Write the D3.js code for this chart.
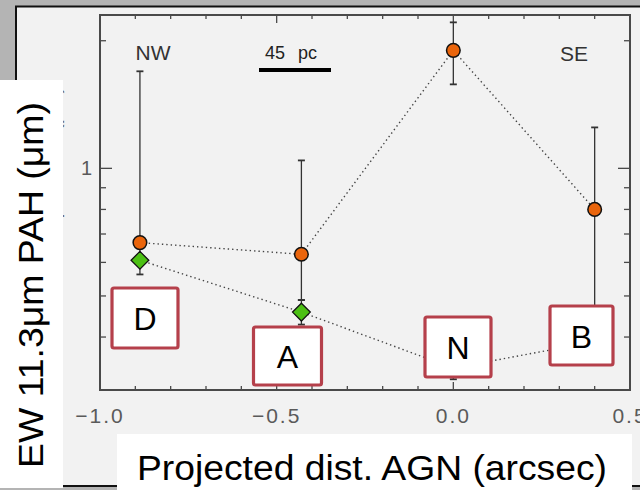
<!DOCTYPE html>
<html>
<head>
<meta charset="utf-8">
<script src="https://cdn.jsdelivr.net/npm/d3@7"></script>
<style>
  html, body { margin: 0; padding: 0; background: #b4b4b4; }
  svg { display: block; }
  text { font-family: "Liberation Sans", Arial, sans-serif; }
</style>
</head>
<body>
<svg id="chart" width="640" height="490"></svg>
<script>
// Region positions along the slit (arcsec from the AGN)
const regions = ["D", "A", "N", "B"];
const offsets = [-0.887, -0.43, 0.0, 0.40];

// EW of the 11.3um PAH band, first series (circles)
const ewCircle     = [0.668, 0.627, 1.898, 0.80];
const ewCircleLow  = [0.660, 0.489, 1.578, 0.35];
const ewCircleHigh = [1.694, 1.044, 2.210, 1.249];

// Second series (diamonds)
const ewDiamond     = [0.607, 0.458, 0.338, 0.390];
const ewDiamondLow  = [0.562, 0.428, 0.318, 0.370];
const ewDiamondHigh = [0.660, 0.489, 0.360, 0.410];

const xTickLabels = ["\u22121.0", "\u22120.5", "0.0", "0.5"];
const xTickValues = [-1.0, -0.5, 0.0, 0.5];
const yMinorTicks = [2, 0.9, 0.8, 0.7, 0.6, 0.5, 0.4, 0.3];
const yMajorTicks = [1];

const svg = d3.select("#chart");

// Panel background
svg.append("rect").attr("x", 0).attr("y", 0).attr("width", 640).attr("height", 490).attr("fill", "#b4b4b4");
svg.append("rect").attr("x", 16).attr("y", 6.5).attr("width", 640).attr("height", 479.5)
  .attr("fill", "#f2f2f2").attr("stroke", "#111").attr("stroke-width", 2);

const plotL = 100, plotR = 630, plotT = 15, plotB = 390;
const x = d3.scaleLinear().domain([-1, 0.5]).range([plotL, plotR]);
const y = d3.scaleLog().domain([0.3, 2.3]).range([plotB, plotT]);

const frameColor = "#4a4a4a";
const g = svg.append("g");

// Ticks on all four sides
const xMinor = d3.range(-10, 6).map(i => i / 10);
xMinor.forEach(v => {
  const major = xTickValues.some(t => Math.abs(t - v) < 1e-9);
  const len = major ? 8 : 4;
  g.append("line").attr("x1", x(v)).attr("x2", x(v)).attr("y1", plotB).attr("y2", plotB - len)
    .attr("stroke", frameColor).attr("stroke-width", 1.3);
  g.append("line").attr("x1", x(v)).attr("x2", x(v)).attr("y1", plotT).attr("y2", plotT + len)
    .attr("stroke", frameColor).attr("stroke-width", 1.3);
});
yMinorTicks.concat(yMajorTicks).forEach(v => {
  const len = yMajorTicks.includes(v) ? 12 : 6;
  g.append("line").attr("x1", plotL).attr("x2", plotL + len).attr("y1", y(v)).attr("y2", y(v))
    .attr("stroke", frameColor).attr("stroke-width", 1.3);
  g.append("line").attr("x1", plotR).attr("x2", plotR - len).attr("y1", y(v)).attr("y2", y(v))
    .attr("stroke", frameColor).attr("stroke-width", 1.3);
});

// Frame
g.append("rect").attr("x", plotL).attr("y", plotT).attr("width", plotR - plotL).attr("height", plotB - plotT)
  .attr("fill", "none").attr("stroke", frameColor).attr("stroke-width", 2);

// Tick labels
xTickValues.forEach((v, i) => {
  g.append("text").attr("x", x(v)).attr("y", 423).attr("text-anchor", "middle")
    .attr("font-size", 21).attr("letter-spacing", 2).attr("fill", "#5a5a5a").text(xTickLabels[i]);
});
yMajorTicks.forEach(v => {
  g.append("text").attr("x", 92).attr("y", y(v) + 7).attr("text-anchor", "end")
    .attr("font-size", 20).attr("fill", "#5a5a5a").text(d3.format("d")(v));
});

// Original small axis titles (mostly hidden under the large ones)
g.append("text").attr("x", 365).attr("y", 455).attr("text-anchor", "middle")
  .attr("font-size", 27).attr("fill", "#8a8a8a").attr("letter-spacing", 1.5)
  .text("Projected dist. AGN (arcsec)");
g.append("text").attr("transform", "translate(59,86) rotate(-90)").attr("text-anchor", "end")
  .attr("font-size", 22).attr("fill", "#6a6a6a").text("EW 11.3\u03bcm PAH (\u03bcm)");

// Connecting dotted lines
const line = d3.line().x(d => x(d[0])).y(d => y(d[1]));
const circlePts = offsets.map((o, i) => [o, ewCircle[i]]);
const diamondPts = offsets.map((o, i) => [o, ewDiamond[i]]);
[circlePts, diamondPts].forEach(pts => {
  g.append("path").attr("d", line(pts)).attr("fill", "none").attr("stroke", "#444")
    .attr("stroke-width", 1.4).attr("stroke-dasharray", "1.4,3");
});

// Error bars
function errorBars(lo, hi) {
  offsets.forEach((o, i) => {
    const cx = x(o);
    g.append("line").attr("x1", cx).attr("x2", cx).attr("y1", y(lo[i])).attr("y2", y(hi[i]))
      .attr("stroke", "#333").attr("stroke-width", 1.3);
    [lo[i], hi[i]].forEach(v => {
      g.append("line").attr("x1", cx - 3.5).attr("x2", cx + 3.5).attr("y1", y(v)).attr("y2", y(v))
        .attr("stroke", "#333").attr("stroke-width", 1.8);
    });
  });
}
errorBars(ewCircleLow, ewCircleHigh);
errorBars(ewDiamondLow, ewDiamondHigh);

// Markers
g.selectAll("circle.pt").data(circlePts).join("circle").attr("class", "pt")
  .attr("cx", d => x(d[0])).attr("cy", d => y(d[1])).attr("r", 6.8)
  .attr("fill", "#ea650c").attr("stroke", "#111").attr("stroke-width", 1.5);
const diamond = d3.symbol().type(d3.symbolDiamond2).size(200);
g.selectAll("path.dm").data(diamondPts).join("path").attr("class", "dm")
  .attr("d", diamond).attr("transform", d => `translate(${x(d[0])},${y(d[1])})`)
  .attr("fill", "#4cc014").attr("stroke", "#111").attr("stroke-width", 1.3);

// Annotations
g.append("text").attr("x", 153).attr("y", 60).attr("text-anchor", "middle")
  .attr("font-size", 21).attr("fill", "#333").text("NW");
g.append("text").attr("x", 574).attr("y", 61).attr("text-anchor", "middle")
  .attr("font-size", 21).attr("fill", "#333").text("SE");
const scaleLbl = g.append("text").attr("y", 59).attr("font-size", 18).attr("fill", "#222");
scaleLbl.append("tspan").attr("x", 265).text("45");
scaleLbl.append("tspan").attr("x", 298).text("pc");
g.append("line").attr("x1", 259).attr("x2", 331).attr("y1", 70).attr("y2", 70)
  .attr("stroke", "#000").attr("stroke-width", 4);

// Region label boxes
const boxLayout = [
  { cx: 145, cy: 318, w: 66, h: 60 },
  { cx: 287.5, cy: 356, w: 68, h: 58 },
  { cx: 458, cy: 347, w: 66, h: 60 },
  { cx: 581.5, cy: 335.5, w: 63, h: 59 }
];
regions.forEach((r, i) => {
  const b = boxLayout[i];
  g.append("rect").attr("x", b.cx - b.w / 2).attr("y", b.cy - b.h / 2).attr("width", b.w).attr("height", b.h)
    .attr("rx", 2).attr("fill", "#fff").attr("stroke", "#b5404b").attr("stroke-width", 3.2);
  g.append("text").attr("x", b.cx).attr("y", b.cy + 12).attr("text-anchor", "middle")
    .attr("font-size", 32).attr("fill", "#000").text(r);
});

// Large axis titles on white panels
svg.append("rect").attr("x", 0).attr("y", 80).attr("width", 63).attr("height", 408).attr("fill", "#fff");
svg.append("text").attr("transform", "translate(43,468) rotate(-90)")
  .attr("font-size", 35).attr("fill", "#000").attr("textLength", 366).attr("lengthAdjust", "spacingAndGlyphs")
  .text("EW 11.3\u03bcm PAH (\u03bcm)");
svg.append("rect").attr("x", 117).attr("y", 434).attr("width", 515).attr("height", 56).attr("fill", "#fff");
svg.append("text").attr("x", 137).attr("y", 480)
  .attr("font-size", 35).attr("fill", "#000").attr("textLength", 470).attr("lengthAdjust", "spacingAndGlyphs")
  .text("Projected dist. AGN (arcsec)");
</script>
</body>
</html>
